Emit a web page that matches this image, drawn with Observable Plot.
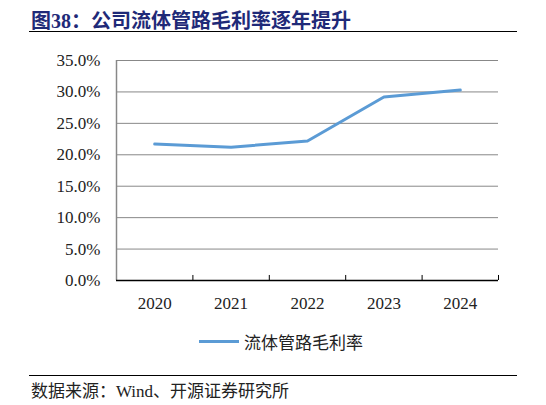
<!DOCTYPE html>
<html>
<head>
<meta charset="utf-8">
<script src="https://cdn.jsdelivr.net/npm/d3@7"></script>
<script src="https://cdn.jsdelivr.net/npm/@observablehq/plot@0.6"></script>
<style>
  body { margin: 0; width: 546px; height: 405px; position: relative; background: #fff; overflow: hidden; }
  .title { position: absolute; left: 31px; top: 5px; font: bold 20px "Liberation Serif", "Noto Sans CJK SC", serif; color: #1f2a78; white-space: nowrap; }
  .rule { position: absolute; left: 29px; width: 488px; height: 0; border-top: 1px solid #000; }
  #chart { position: absolute; left: 0; top: 40px; }
  .legend { position: absolute; left: 199px; top: 329px; font: 17px "Noto Sans CJK SC", serif; color: #222; display: flex; align-items: center; white-space: nowrap; }
  .legend span.sw { display: inline-block; width: 40px; height: 3px; background: #5b9bd5; margin-right: 5px; }
  .source { position: absolute; left: 31px; top: 377px; font: 17px "Liberation Serif", "Noto Sans CJK SC", serif; color: #222; white-space: nowrap; }
</style>
</head>
<body>
<div class="title">图38：公司流体管路毛利率逐年提升</div>
<div class="rule" style="top:31px"></div>
<div id="chart"></div>
<div class="legend"><span class="sw"></span>流体管路毛利率</div>
<div class="rule" style="top:375px"></div>
<div class="source">数据来源：Wind、开源证券研究所</div>
<script>
// 数据
const years = [2020, 2021, 2022, 2023, 2024]
const margin = [21.7, 21.2, 22.2, 29.2, 30.3]
const yTicks = [0, 5, 10, 15, 20, 25, 30, 35]

const data = years.map((y, i) => ({year: y, value: margin[i]}))
const edges = [2019.5, 2020.5, 2021.5, 2022.5, 2023.5, 2024.5]

let chart = Plot.plot({
  width: 546,
  height: 280,
  marginLeft: 116,
  marginRight: 48,
  marginTop: 20,
  marginBottom: 40,
  style: {fontFamily: '"Liberation Serif", serif', fontSize: '17px', color: '#222'},
  x: {domain: [2019.5, 2024.5]},
  y: {domain: [0, 35]},
  marks: [
    Plot.axisY({ticks: yTicks, tickSize: 0, tickPadding: 16, tickFormat: d => d.toFixed(1) + '%', label: null, fontSize: 17}),
    Plot.tickY(yTicks, {x1: 2019.5, y: d => d, stroke: '#888'}),
    Plot.axisX({ticks: years, tickSize: 0, tickPadding: 16, tickFormat: d => String(d), label: null, fontSize: 17}),
    Plot.ruleX(edges, {y1: 0, y2: 0.8, stroke: '#000'}),
    Plot.ruleX([2019.5], {y1: 0, y2: 35, stroke: '#888', strokeWidth: 1.5}),
    Plot.ruleY([0], {stroke: '#000', strokeWidth: 1.5}),
    Plot.line(data, {x: 'year', y: 'value', stroke: '#5b9bd5', strokeWidth: 3})
  ]
})

d3.select('#chart').append(() => chart)
</script>
</body>
</html>
